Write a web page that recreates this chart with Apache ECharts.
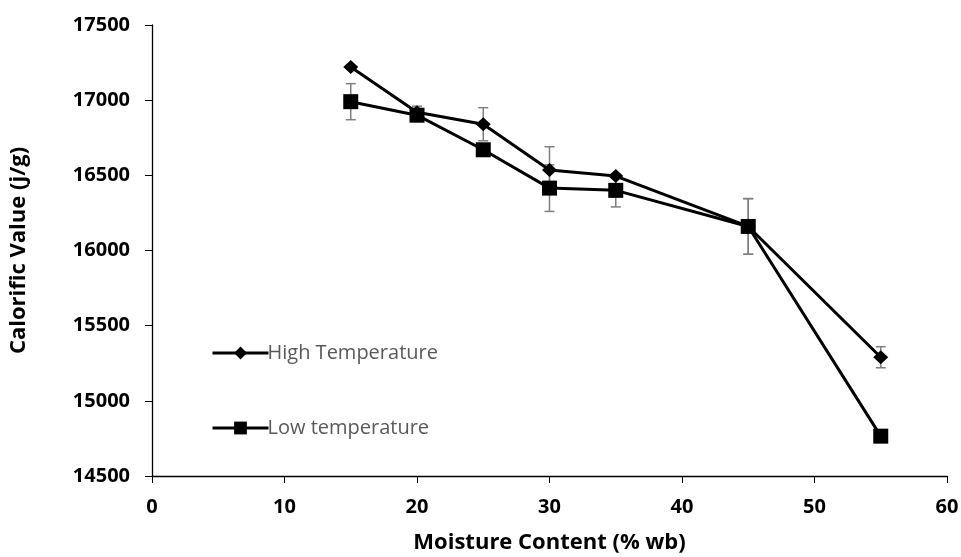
<!DOCTYPE html>
<html>
<head>
<meta charset="utf-8">
<script src="https://cdn.jsdelivr.net/npm/echarts@6/dist/echarts.min.js"></script>
<style>html,body{margin:0;padding:0;background:#fff}#c{width:961px;height:557px}</style>
</head>
<body>
<div id="c"></div>
<script>
const moisture = [15, 20, 25, 30, 35, 45, 55];
const highTemp = [17220, 16920, 16840, 16535, 16495, 16160, 15290];
const highErr  = [0, 40, 110, 155, 0, 185, 70];
const lowTemp  = [16990, 16900, 16670, 16415, 16400, 16160, 14765];
const lowErr   = [120, 30, 0, 155, 110, 185, 40];
const xTicks = [0, 10, 20, 30, 40, 50, 60];
const yTicks = [14500, 15000, 15500, 16000, 16500, 17000, 17500];

const FONT = 'Open Sans';
const chart = echarts.init(document.getElementById('c'));

function errData(vals, errs) {
  return moisture.map((m, i) => [m, vals[i] - errs[i], vals[i] + errs[i]]).filter((d, i) => errs[i] > 0);
}
function errRender(params, api) {
  const x = api.value(0);
  const lo = api.coord([x, api.value(1)]);
  const hi = api.coord([x, api.value(2)]);
  const w = 5;
  const st = { stroke: '#7f7f7f', lineWidth: 1.5, fill: null };
  return {
    type: 'group',
    children: [
      { type: 'line', shape: { x1: lo[0], y1: lo[1], x2: hi[0], y2: hi[1] }, style: st },
      { type: 'line', shape: { x1: lo[0] - w, y1: lo[1], x2: lo[0] + w, y2: lo[1] }, style: st },
      { type: 'line', shape: { x1: hi[0] - w, y1: hi[1], x2: hi[0] + w, y2: hi[1] }, style: st }
    ]
  };
}

chart.setOption({
  animation: false,
  backgroundColor: '#fff',
  grid: { left: 152, right: 14, top: 25, bottom: 81, containLabel: false, outerBoundsMode: 'none' },
  legend: {
    left: 206, top: 338, orient: 'vertical',
    itemWidth: 56, itemHeight: 16, itemGap: 55,
    lineStyle: { width: 3 },
    textStyle: { fontFamily: FONT, fontSize: 20, lineHeight: 20, color: '#595959', padding: [0, 0, 0, -6] },
    data: ['High Temperature', 'Low temperature']
  },
  xAxis: {
    type: 'value', min: 0, max: 60, interval: 10,
    name: 'Moisture Content (% wb)', nameLocation: 'middle', nameGap: 56,
    nameTextStyle: { fontFamily: FONT, fontSize: 22, fontWeight: 'bold', color: '#000' },
    axisLine: { show: true, lineStyle: { color: '#000', width: 1.3 } },
    axisTick: { show: true, inside: false, length: 7, lineStyle: { color: '#000' } },
    axisLabel: { fontFamily: FONT, fontSize: 20, fontWeight: 'bold', color: '#000', margin: 21,
      formatter: v => xTicks.includes(v) ? String(v) : '' },
    splitLine: { show: false }
  },
  yAxis: {
    type: 'value', min: 14500, max: 17500, interval: 500,
    name: 'Calorific Value (j/g)', nameLocation: 'middle', nameGap: 122, nameRotate: 90,
    nameTextStyle: { fontFamily: FONT, fontSize: 22, fontWeight: 'bold', color: '#000' },
    axisLine: { show: true, lineStyle: { color: '#000', width: 1.3 } },
    axisTick: { show: true, inside: false, length: 7, lineStyle: { color: '#000' } },
    axisLabel: { fontFamily: FONT, fontSize: 20, fontWeight: 'bold', color: '#000', margin: 22,
      formatter: v => yTicks.includes(v) ? String(v) : '' },
    splitLine: { show: false }
  },
  series: [
    {
      type: 'custom', name: 'errHigh', renderItem: errRender, z: 1,
      data: errData(highTemp, highErr), silent: true
    },
    {
      type: 'custom', name: 'errLow', renderItem: errRender, z: 1,
      data: errData(lowTemp, lowErr), silent: true
    },
    {
      type: 'line', name: 'High Temperature', z: 3,
      data: moisture.map((m, i) => [m, highTemp[i]]),
      symbol: 'diamond', symbolSize: [15, 14],
      lineStyle: { color: '#000', width: 3 },
      itemStyle: { color: '#000' }
    },
    {
      type: 'line', name: 'Low temperature', z: 3,
      data: moisture.map((m, i) => [m, lowTemp[i]]),
      symbol: 'rect', symbolSize: 15,
      lineStyle: { color: '#000', width: 3 },
      itemStyle: { color: '#000' }
    }
  ]
});
</script>
</body>
</html>
